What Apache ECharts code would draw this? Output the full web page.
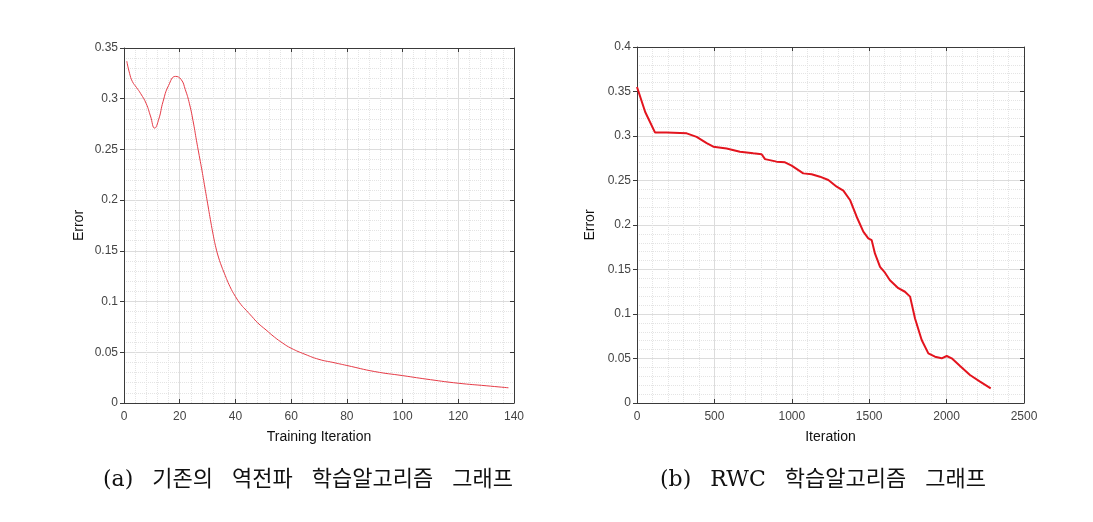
<!DOCTYPE html>
<html>
<head>
<meta charset="utf-8">
<script src="https://cdn.jsdelivr.net/npm/echarts@6/dist/echarts.min.js"></script>
<style>
html,body{margin:0;padding:0;background:#fff;}
#main{width:1093px;height:522px;}
</style>
</head>
<body>
<div id="main"></div>
<script>
// ---- Data ----
const leftIter = [1, 2, 3, 4.5, 6, 8, 9.5, 11, 12.5, 14, 16, 18.5, 20.5, 22, 23.5, 25, 26, 27, 28, 29, 30, 31, 32, 33, 34, 35, 36, 38, 40, 42, 44, 46, 48, 51, 54, 57, 60, 65, 70, 75, 80, 90, 100, 110, 120, 130, 138];
const leftErr  = [0.337, 0.325, 0.317, 0.311, 0.305, 0.295, 0.283, 0.271, 0.280, 0.297, 0.313, 0.322, 0.319, 0.309, 0.295, 0.275, 0.259, 0.244, 0.229, 0.213, 0.197, 0.181, 0.166, 0.153, 0.143, 0.135, 0.128, 0.115, 0.105, 0.097, 0.091, 0.085, 0.079, 0.072, 0.065, 0.059, 0.054, 0.048, 0.043, 0.040, 0.037, 0.031, 0.027, 0.023, 0.0195, 0.017, 0.015];

const rightIter = [0, 53, 116, 191, 321, 385, 450, 493, 579, 665, 751, 805, 827, 902, 956, 999, 1074, 1128, 1182, 1236, 1290, 1333, 1376, 1419, 1462, 1494, 1516, 1537, 1570, 1602, 1634, 1688, 1731, 1764, 1796, 1839, 1882, 1925, 1968, 2001, 2033, 2087, 2151, 2216, 2285];
const rightErr  = [0.355, 0.327, 0.304, 0.304, 0.303, 0.299, 0.292, 0.288, 0.286, 0.2824, 0.2805, 0.2795, 0.274, 0.2712, 0.2704, 0.2667, 0.258, 0.257, 0.2543, 0.2506, 0.243, 0.2386, 0.2281, 0.2093, 0.1925, 0.185, 0.183, 0.168, 0.153, 0.1464, 0.138, 0.129, 0.125, 0.1195, 0.095, 0.0708, 0.0558, 0.052, 0.0502, 0.0528, 0.0502, 0.0416, 0.0315, 0.024, 0.0165];

const leftXName = 'Training Iteration';
const rightXName = 'Iteration';
const yName = 'Error';
const captionA = '(a) 기존의 역전파 학습알고리즘 그래프';
const captionB = '(b) RWC 학습알고리즘 그래프';

const leftX = {min: 0, max: 140, interval: 20};
const leftY = {min: 0, max: 0.35, interval: 0.05};
const rightX = {min: 0, max: 2500, interval: 500};
const rightY = {min: 0, max: 0.4, interval: 0.05};

// ---- Styling helpers ----
const axisColor = '#3a3a3a';
const labelStyle = {color: '#444', fontSize: 12, fontFamily: 'Liberation Sans, Arial, sans-serif', formatter: v => String(v)};
const nameStyle = {color: '#111', fontSize: 14, fontFamily: 'Liberation Sans, Arial, sans-serif'};
const splitLine = {show: true, lineStyle: {color: '#dcdcdc', width: 1, type: 'solid'}};
const minorSplit = {show: true, lineStyle: {color: '#e4e4e4', width: 1, type: 'dotted'}};

function mainX(grid, r, name) {
  return {
    type: 'value', gridIndex: grid, position: 'bottom', min: r.min, max: r.max, interval: r.interval,
    name: name, nameLocation: 'middle', nameGap: 27, nameTextStyle: nameStyle,
    axisLine: {show: true, onZero: false, lineStyle: {color: axisColor, width: 1}},
    axisTick: {show: true, inside: true, length: 4, lineStyle: {color: axisColor}},
    axisLabel: Object.assign({margin: 8}, labelStyle),
    splitLine: splitLine,
    minorTick: {show: false, splitNumber: 5},
    minorSplitLine: minorSplit
  };
}
function mainY(grid, r, gap) {
  return {
    type: 'value', gridIndex: grid, position: 'left', min: r.min, max: r.max, interval: r.interval,
    name: yName, nameLocation: 'middle', nameGap: gap, nameTextStyle: nameStyle,
    axisLine: {show: true, onZero: false, lineStyle: {color: axisColor, width: 1}},
    axisTick: {show: true, inside: false, length: 4, lineStyle: {color: axisColor}},
    axisLabel: Object.assign({margin: 6}, labelStyle),
    splitLine: splitLine,
    minorTick: {show: false, splitNumber: 5},
    minorSplitLine: minorSplit
  };
}
function boxX(grid, r) {
  return {
    type: 'value', gridIndex: grid, position: 'top', min: r.min, max: r.max, interval: r.interval,
    axisLine: {show: true, onZero: false, lineStyle: {color: axisColor, width: 1}},
    axisTick: {show: true, inside: true, length: 4, lineStyle: {color: axisColor}},
    axisLabel: {show: false}, splitLine: {show: false}
  };
}
function boxY(grid, r) {
  return {
    type: 'value', gridIndex: grid, position: 'right', min: r.min, max: r.max, interval: r.interval,
    axisLine: {show: true, onZero: false, lineStyle: {color: axisColor, width: 1}},
    axisTick: {show: true, inside: true, length: 4, lineStyle: {color: axisColor}},
    axisLabel: {show: false}, splitLine: {show: false}
  };
}

// caption: words separated by wider gaps (rich text, same words)
function richCaption(s) {
  return s.split(' ').join('{sp| }');
}
const captionFont = '"DejaVu Serif", "Noto Sans CJK KR", serif';
const captionRich = {sp: {width: 19, fontSize: 22, fontFamily: captionFont}};

const chart = echarts.init(document.getElementById('main'), null, {renderer: 'canvas'});
chart.setOption({
  backgroundColor: '#ffffff',
  animation: false,
  grid: [
    {left: 124, top: 48, width: 390, height: 355},
    {left: 637, top: 47, width: 387, height: 356}
  ],
  xAxis: [
    mainX(0, leftX, leftXName),
    boxX(0, leftX),
    mainX(1, rightX, rightXName),
    boxX(1, rightX)
  ],
  yAxis: [
    mainY(0, leftY, 38),
    boxY(0, leftY),
    mainY(1, rightY, 40),
    boxY(1, rightY)
  ],
  series: [
    {
      type: 'line', xAxisIndex: 0, yAxisIndex: 0, smooth: 0.5, showSymbol: false,
      lineStyle: {color: '#e63a46', width: 1},
      data: leftIter.map((x, i) => [x, leftErr[i]])
    },
    {
      type: 'line', xAxisIndex: 2, yAxisIndex: 2, smooth: false, showSymbol: false,
      lineStyle: {color: '#e3141e', width: 2},
      data: rightIter.map((x, i) => [x, rightErr[i]])
    }
  ],
  graphic: [
    {type: 'text', left: 103, top: 469, style: {text: richCaption(captionA), fill: '#111', fontSize: 22, fontFamily: captionFont, rich: captionRich}},
    {type: 'text', left: 660, top: 469, style: {text: richCaption(captionB), fill: '#111', fontSize: 22, fontFamily: captionFont, rich: captionRich}}
  ]
});
</script>
</body>
</html>
